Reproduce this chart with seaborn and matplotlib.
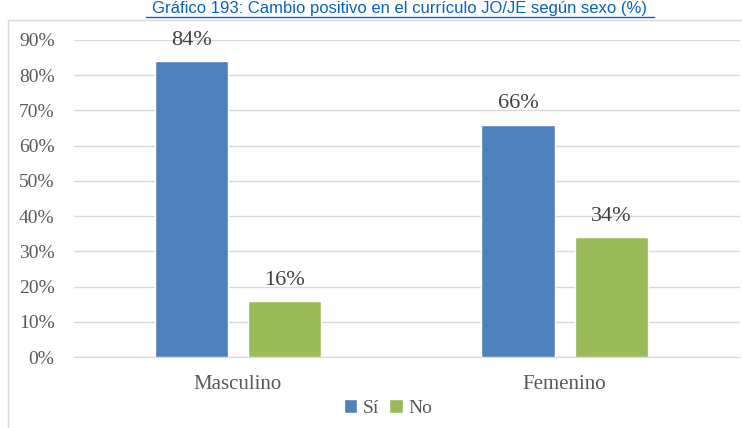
import pandas as pd
import seaborn as sns
import matplotlib.pyplot as plt
from matplotlib.patches import Rectangle
from matplotlib.ticker import PercentFormatter

sexo = ['Masculino', 'Femenino']
si = [84, 66]
no = [16, 34]
respuestas = ['Sí', 'No']
titulo = 'Gráfico 193: Cambio positivo en el currículo JO/JE según sexo (%)'

df = pd.DataFrame({
    'Sexo': sexo * 2,
    'Respuesta': ['Sí'] * len(sexo) + ['No'] * len(sexo),
    'Valor': si + no,
})

sns.set_style('white')
plt.rcParams['font.family'] = ['Liberation Serif', 'DejaVu Serif']

fig = plt.figure(figsize=(7.42, 4.28), dpi=100)
ax = fig.add_axes([74 / 742, 1 - 357 / 428, 666 / 742, 317 / 428])

sns.barplot(data=df, x='Sexo', y='Valor', hue='Respuesta', hue_order=respuestas,
            palette=['#4F81BD', '#9BBB59'], width=0.57, gap=0.214,
            saturation=1, ax=ax)

for cont in ax.containers:
    ax.bar_label(cont, labels=[f'{v:.0f}%' for v in cont.datavalues],
                 padding=8, fontsize=16, color='#404040')

ax.set_ylim(0, 90)
ax.set_xlim(-0.502, 1.537)
ax.set_yticks(range(0, 91, 10))
ax.yaxis.set_major_formatter(PercentFormatter(decimals=0))
ax.grid(axis='y', color='#d9d9d9', linewidth=1)
ax.set_axisbelow(True)
for s in ['top', 'right', 'left']:
    ax.spines[s].set_visible(False)
ax.spines['bottom'].set_color('#d9d9d9')
ax.tick_params(axis='y', labelsize=14, colors='#595959', length=0, pad=14)
ax.tick_params(axis='x', labelsize=15, colors='#595959', length=0, pad=13)
ax.set_xlabel('')
ax.set_ylabel('')

ax.legend(loc='center', bbox_to_anchor=(388 / 742, 1 - 408 / 428),
          bbox_transform=fig.transFigure, ncol=2, frameon=False,
          fontsize=14, handlelength=0.7, handleheight=0.7, handletextpad=0.3,
          columnspacing=0.5, labelcolor='#595959')

# marco del gráfico (recortado)
fig.patches.append(Rectangle((8 / 742, -0.1), 1.2, 1 - 20 / 428 + 0.1,
                             transform=fig.transFigure, fill=False,
                             edgecolor='#d9d9d9', linewidth=1))

fig.text(400 / 742, 1 - 1 / 428, titulo, ha='center', va='top',
         fontsize=12, color='#0563C1', family=['Liberation Sans', 'DejaVu Sans'])
fig.add_artist(plt.Line2D([146 / 742, 654 / 742], [1 - 17 / 428] * 2,
                          transform=fig.transFigure, color='#0563C1', linewidth=1))

fig.savefig('out.png', dpi=100)
